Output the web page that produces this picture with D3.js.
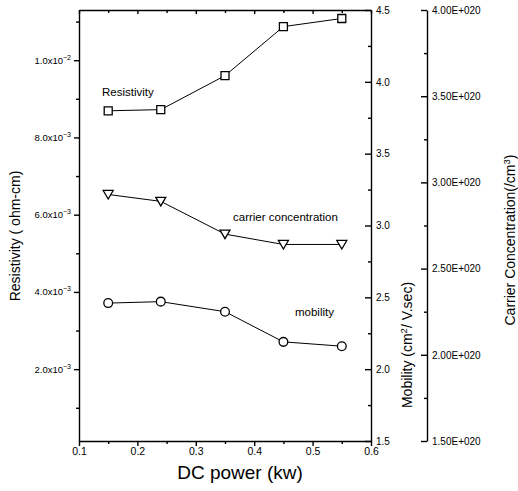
<!DOCTYPE html>
<html><head><meta charset="utf-8">
<script src="https://cdn.jsdelivr.net/npm/d3@7"></script>
<style>
body{margin:0;background:#fff}
svg{display:block}
text{font-family:"Liberation Sans",Arial,sans-serif;fill:#000}
</style>
</head><body>
<svg id="c" width="518" height="491"></svg>
<script>
// ---- data ----
const power = [0.15, 0.24, 0.35, 0.45, 0.55];
const resistivity = [0.00869, 0.00872, 0.00960, 0.01087, 0.01108];
const concentration = [2.93e20, 2.89e20, 2.70e20, 2.64e20, 2.64e20];
const mobility = [2.46, 2.47, 2.40, 2.19, 2.16];

const xTicks = [0.1, 0.2, 0.3, 0.4, 0.5, 0.6];
const xMinor = [0.15, 0.25, 0.35, 0.45, 0.55];
const resTicks = [0.002, 0.004, 0.006, 0.008, 0.010];
const resMinor = [0.001, 0.003, 0.005, 0.007, 0.009, 0.011];
const mobTicks = [1.5, 2.0, 2.5, 3.0, 3.5, 4.0, 4.5];
const mobMinor = [1.75, 2.25, 2.75, 3.25, 3.75, 4.25];
const carTicks = [1.5e20, 2.0e20, 2.5e20, 3.0e20, 3.5e20, 4.0e20];
const carMinor = [1.75e20, 2.25e20, 2.75e20, 3.25e20, 3.75e20];
const carLabels = ["1.50E+020", "2.00E+020", "2.50E+020", "3.00E+020", "3.50E+020", "4.00E+020"];

// ---- layout ----
const L = 79, R = 371, T = 10, B = 441, R2 = 427;
const svg = d3.select("#c");

const x = d3.scaleLinear().domain([0.1, 0.6]).range([L, R]);
const yRes = d3.scaleLinear().domain([0.00014, 0.0113]).range([B, T]);
const yMob = d3.scaleLinear().domain([1.5, 4.5]).range([B, T]);
const yCar = d3.scaleLinear().domain([1.5e20, 4.0e20]).range([B, T]);

const axisStroke = g => g.selectAll("path,line").attr("stroke", "#000").attr("stroke-width", 1.4);

// bottom axis
const gx = svg.append("g").attr("transform", `translate(0,${B})`);
gx.call(d3.axisBottom(x).tickValues(xTicks).tickSize(5).tickSizeOuter(0).tickFormat(d3.format(".1f")));
gx.append("g").call(d3.axisBottom(x).tickValues(xMinor).tickSize(3).tickFormat("")).select(".domain").remove();
gx.selectAll("text").attr("font-size", 10.5).attr("font-family", '"Liberation Sans",Arial,sans-serif').attr("y", 6).attr("dy", "0.75em");
axisStroke(gx);

// top axis (mirror ticks inward)
const gt = svg.append("g").attr("transform", `translate(0,${T})`);
gt.call(d3.axisBottom(x).tickValues(xTicks).tickSize(4).tickSizeOuter(0).tickFormat(""));
gt.append("g").call(d3.axisBottom(x).tickValues(xMinor).tickSize(3).tickFormat("")).select(".domain").remove();
axisStroke(gt);

// left axis (resistivity)
const gl = svg.append("g").attr("transform", `translate(${L},0)`);
gl.call(d3.axisLeft(yRes).tickValues(resTicks).tickSize(5).tickSizeOuter(0).tickFormat(""));
gl.append("g").call(d3.axisLeft(yRes).tickValues(resMinor).tickSize(3).tickFormat("")).select(".domain").remove();
axisStroke(gl);
const resLab = gl.selectAll(".rl").data(resTicks).join("text")
  .attr("class", "rl").attr("x", -8).attr("y", d => yRes(d) + 3.5)
  .attr("text-anchor", "end").attr("font-size", 9.5);
resLab.each(function(d) {
  const e = Math.floor(Math.log10(d) + 1e-9);
  const m = d / Math.pow(10, e);
  const t = d3.select(this);
  t.append("tspan").text(m.toFixed(1) + "x10");
  t.append("tspan").attr("dy", -4).attr("font-size", 7).text(String(e).replace("-", "\u2212"));
});

// right axis (mobility)
const gm = svg.append("g").attr("transform", `translate(${R},0)`);
gm.call(d3.axisRight(yMob).tickValues(mobTicks).tickSize(-6).tickSizeOuter(0).tickFormat(d3.format(".1f")));
gm.append("g").call(d3.axisRight(yMob).tickValues(mobMinor).tickSize(-3).tickFormat("")).select(".domain").remove();
gm.selectAll("text").attr("x", 5).attr("font-size", 10).attr("font-family", '"Liberation Sans",Arial,sans-serif');
axisStroke(gm);

// far right axis (carrier concentration)
const gc = svg.append("g").attr("transform", `translate(${R2},0)`);
gc.call(d3.axisRight(yCar).tickValues(carTicks).tickSize(-6).tickSizeOuter(0).tickFormat((d, i) => carLabels[i]));
gc.append("g").call(d3.axisRight(yCar).tickValues(carMinor).tickSize(-3).tickFormat("")).select(".domain").remove();
gc.selectAll("text").attr("x", 5).attr("font-size", 10).attr("font-family", '"Liberation Sans",Arial,sans-serif');
axisStroke(gc);

// ---- series ----
function series(vals, y, shape) {
  const pts = power.map((p, i) => [x(p), y(vals[i])]);
  svg.append("path").attr("d", d3.line()(pts)).attr("fill", "none").attr("stroke", "#000").attr("stroke-width", 1);
  const g = svg.append("g").selectAll("path").data(pts).join("path")
    .attr("transform", d => `translate(${d[0]},${d[1]})`)
    .attr("fill", "#fff").attr("stroke", "#000").attr("stroke-width", 1.3);
  if (shape === "square") g.attr("d", "M-4,-4H4V4H-4Z");
  else if (shape === "circle") g.attr("d", d3.symbol(d3.symbolCircle, 60)());
  else g.attr("d", "M-5,-4L5,-4L0,4.5Z");
}
series(resistivity, yRes, "square");
series(concentration, yCar, "triangle");
series(mobility, yMob, "circle");

// ---- annotations ----
svg.append("text").attr("x", 102).attr("y", 96).attr("font-size", 11.5).text("Resistivity");
svg.append("text").attr("x", 233).attr("y", 221).attr("font-size", 11.5).text("carrier concentration");
svg.append("text").attr("x", 295).attr("y", 316).attr("font-size", 11.5).text("mobility");

// ---- axis titles ----
svg.append("text").attr("x", 240).attr("y", 479).attr("text-anchor", "middle").attr("font-size", 19).text("DC power (kw)");

svg.append("text").attr("transform", "translate(20,236) rotate(-90)").attr("text-anchor", "middle")
  .attr("font-size", 14).text("Resistivity ( ohm-cm)");

const mt = svg.append("text").attr("transform", "translate(412,345) rotate(-90)").attr("text-anchor", "middle").attr("font-size", 14);
mt.append("tspan").text("Mobility (cm");
mt.append("tspan").attr("dy", -5).attr("font-size", 9.5).text("2");
mt.append("tspan").attr("dy", 5).text("/ V.sec)");

const ct = svg.append("text").attr("transform", "translate(515,240) rotate(-90)").attr("text-anchor", "middle").attr("font-size", 14);
ct.append("tspan").text("Carrier Concentration(/cm");
ct.append("tspan").attr("dy", -5).attr("font-size", 9.5).text("3");
ct.append("tspan").attr("dy", 5).text(")");
</script>
</body></html>
